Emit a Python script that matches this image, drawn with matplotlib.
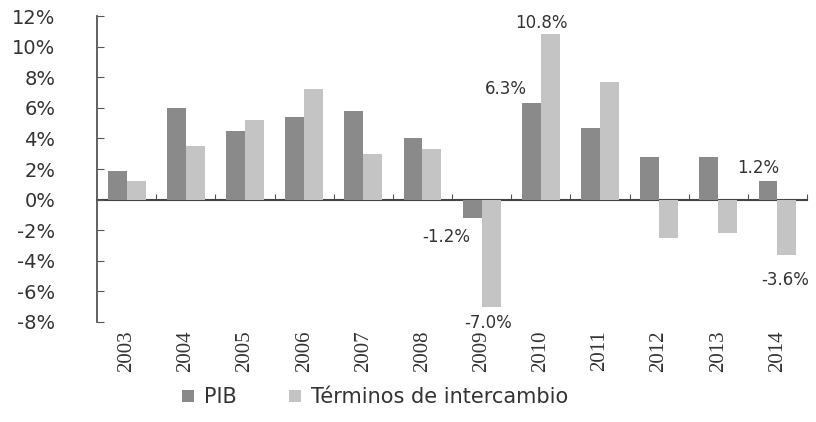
import matplotlib.pyplot as plt
import numpy as np

years = ["2003", "2004", "2005", "2006", "2007", "2008",
         "2009", "2010", "2011", "2012", "2013", "2014"]
pib = [1.9, 6.0, 4.5, 5.4, 5.8, 4.0, -1.2, 6.3, 4.7, 2.8, 2.8, 1.2]
terminos = [1.2, 3.5, 5.2, 7.2, 3.0, 3.3, -7.0, 10.8, 7.7, -2.5, -2.2, -3.6]
yticks = [-8, -6, -4, -2, 0, 2, 4, 6, 8, 10, 12]

# labelled points: (series, index, text, x offset pt, y offset pt)
labels = [
    ("pib", 6, "-1.2%", -19, -14),
    ("ter", 6, "-7.0%", -2, -11.5),
    ("pib", 7, "6.3%", -18, 10),
    ("ter", 7, "10.8%", -6.5, 8.5),
    ("pib", 11, "1.2%", -7, 9.5),
    ("ter", 11, "-3.6%", -1, -18.5),
]

if __name__ == "__main__":
    fig = plt.figure(figsize=(8.16, 4.22), dpi=100)
    ax = fig.add_axes([0.119, 0.237, 0.870, 0.725])

    x = np.arange(len(years))
    w = 0.32
    c_pib = "#8a8a8a"
    c_ter = "#c4c4c4"
    ax.bar(x - w / 2, pib, w, color=c_pib, edgecolor="none", label="PIB")
    ax.bar(x + w / 2, terminos, w, color=c_ter, edgecolor="none",
           label="Términos de intercambio")

    ax.set_xlim(-0.5, len(years) - 0.5)
    ax.set_ylim(-8, 12)
    ax.set_yticks(yticks)
    ax.set_yticklabels([f"{v}%" for v in yticks], fontsize=14, color="#333333")
    ax.tick_params(axis="y", direction="in", length=5, color="#555555", pad=30)

    for s in ["top", "right", "bottom"]:
        ax.spines[s].set_visible(False)
    ax.spines["left"].set_color("#555555")
    ax.spines["left"].set_linewidth(1.3)

    # year labels along the bottom of the axes
    ax.set_xticks(x)
    ax.set_xticklabels(years, rotation=90, fontsize=15, family="Liberation Serif",
                       color="#333333")
    ax.tick_params(axis="x", length=0, pad=6)

    # zero line with boundary ticks
    zero = ax.secondary_xaxis(8 / 20)
    zero.set_xticks(np.arange(len(years)) + 0.5)
    zero.set_xticklabels([])
    zero.tick_params(direction="in", length=4, color="#555555")
    zero.spines["bottom"].set_color("#444444")
    zero.spines["bottom"].set_linewidth(1.5)

    for series, i, txt, dx, dy in labels:
        if series == "pib":
            xv, yv = x[i] - w / 2, pib[i]
        else:
            xv, yv = x[i] + w / 2, terminos[i]
        ax.annotate(txt, (xv, yv), xytext=(dx, dy), textcoords="offset points",
                    ha="center", va="center", fontsize=12, color="#333333")

    fig.legend(loc="lower center", bbox_to_anchor=(0.46, -0.01), ncol=2,
               frameon=False, fontsize=15, handlelength=0.55, handleheight=0.55,
               handletextpad=0.5, columnspacing=2.5, labelcolor="#333333")

    fig.savefig("out.png", dpi=100)
